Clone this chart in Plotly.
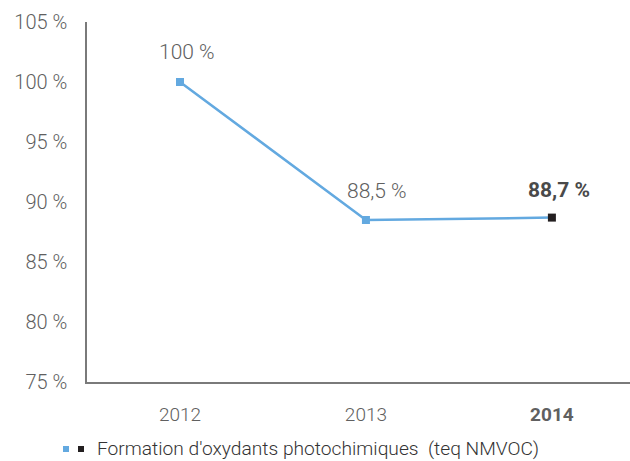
import plotly.graph_objects as go

# Series data
years = ["2012", "2013", "2014"]
values = [100, 88.5, 88.7]
value_labels = ["100 %", "88,5 %", "88,7 %"]
tick_vals = [75, 80, 85, 90, 95, 100, 105]
tick_text = ["75 %", "80 %", "85 %", "90 %", "95 %", "100 %", "105 %"]
x_tick_text = ["2012", "2013", "<b>2014</b>"]
legend_label = "Formation d'oxydants photochimiques  (teq NMVOC)"

BLUE = "#63a9e0"
DARK = "#231f20"
GREY = "#606060"
FONT = "Roboto"

fig = go.Figure()
fig.add_trace(go.Scatter(
    x=years, y=values, mode="lines+markers",
    line=dict(color=BLUE, width=2.5),
    marker=dict(symbol="square", size=8, color=[BLUE, BLUE, DARK]),
    showlegend=False, cliponaxis=False,
))

# Value labels above each point (category axis positions by index)
label_weights = [300, 300, 700]
label_colors = [GREY, GREY, "#4a4a4a"]
label_shift = [(7, 30), (11, 29), (7, 28)]
for i, (v, txt) in enumerate(zip(values, value_labels)):
    fig.add_annotation(
        x=i, y=v, text=txt, showarrow=False,
        xshift=label_shift[i][0], yshift=label_shift[i][1],
        font=dict(family=FONT, size=21, color=label_colors[i], weight=label_weights[i]),
    )

# Legend: two small squares followed by the series name
def px_x(px):
    return (px - 87) / 543

def px_y(py):
    return (382 - py) / 360

fig.add_shape(type="rect", xref="paper", yref="paper",
              x0=px_x(63), x1=px_x(69), y0=px_y(446), y1=px_y(452),
              fillcolor=BLUE, line=dict(width=0))
fig.add_shape(type="rect", xref="paper", yref="paper",
              x0=px_x(78), x1=px_x(84), y0=px_y(446), y1=px_y(452),
              fillcolor=DARK, line=dict(width=0))
fig.add_annotation(
    xref="paper", yref="paper", x=px_x(95), y=px_y(448),
    xanchor="left", yanchor="middle", showarrow=False, text=legend_label,
    font=dict(family=FONT, size=19.2, color="#333333", weight=300),
)

fig.update_layout(
    width=630, height=461,
    margin=dict(l=87, r=0, t=22, b=79),
    paper_bgcolor="white", plot_bgcolor="white",
    font=dict(family=FONT, color=GREY, weight=300),
    xaxis=dict(
        type="category", range=[-0.5, 2.42],
        tickvals=years, ticktext=x_tick_text,
        showline=True, linecolor="#7a7a7a", linewidth=1.5,
        showgrid=False, ticks="", ticklabelstandoff=14,
        tickfont=dict(family=FONT, size=19, color=GREY),
    ),
    yaxis=dict(
        range=[75, 105], tickvals=tick_vals, ticktext=tick_text,
        showline=True, linecolor="#7a7a7a", linewidth=1.5,
        showgrid=False, zeroline=False, ticks="", ticklabelstandoff=14,
        tickfont=dict(family=FONT, size=20, color=GREY),
    ),
)

fig.write_html("out.html")
